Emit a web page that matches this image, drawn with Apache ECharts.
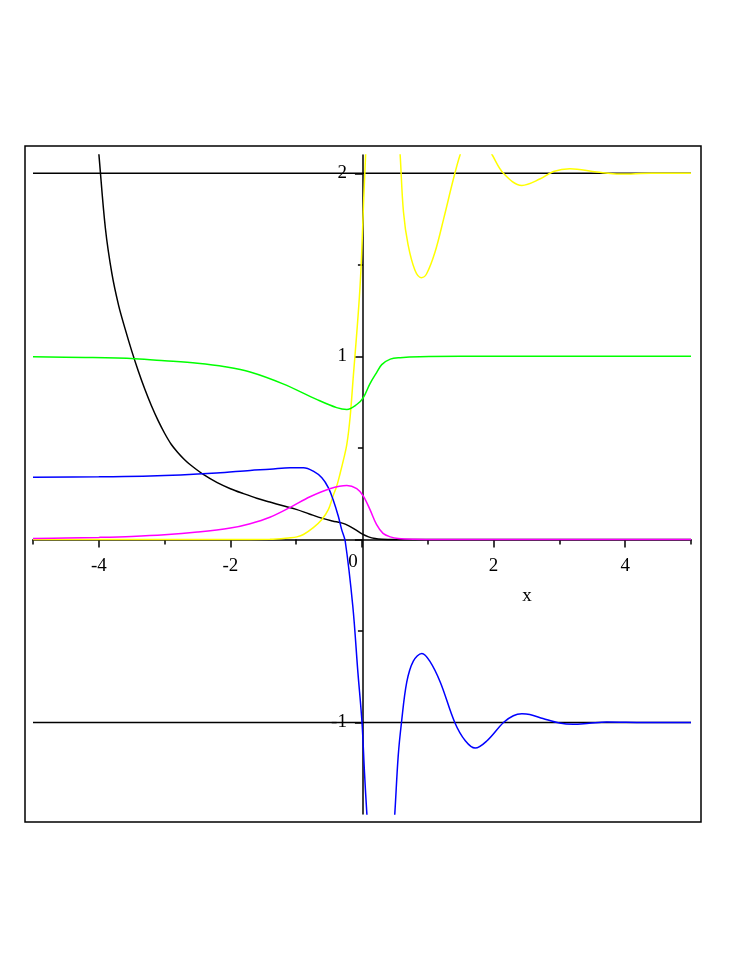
<!DOCTYPE html>
<html>
<head>
<meta charset="utf-8">
<script src="https://cdn.jsdelivr.net/npm/echarts@6/dist/echarts.min.js"></script>
<style>
html,body{margin:0;padding:0;background:#fff;}
#chart{width:747px;height:967px;}
</style>
</head>
<body>
<div id="chart"></div>
<script>
// ---- data ----
var xRange = [-5, 5];
var yRange = [-1.5, 2.1];
var levelLines = [2, -1];
var xMinorTicks = [-5, -3, -1, 1, 3, 5];
var xTickLabels = [-4, -2, 0, 2, 4];
var yMinorTicks = [-0.5, 0.5, 1.5];
var yTickLabels = [-1, 1, 2];

var blackX = [-4.06, -4.0, -3.9, -3.8, -3.7, -3.6, -3.5, -3.4, -3.3, -3.2, -3.1, -3.0, -2.9, -2.8, -2.7, -2.6, -2.4, -2.2, -2.0, -1.8, -1.6, -1.4, -1.2, -1.0, -0.8, -0.6, -0.45, -0.3, -0.2, -0.1, 0, 0.1, 0.2, 0.3, 0.5, 1, 5];
var blackY = [2.36, 2.11, 1.70, 1.45, 1.28, 1.15, 1.03, 0.92, 0.82, 0.73, 0.65, 0.58, 0.52, 0.475, 0.437, 0.405, 0.352, 0.31, 0.277, 0.25, 0.225, 0.204, 0.184, 0.164, 0.139, 0.115, 0.101, 0.089, 0.074, 0.053, 0.03, 0.014, 0.005, 0.0015, 0, 0, 0];

var yellowX = [-5, -2, -1.4, -1.09, -0.99, -0.89, -0.74, -0.61, -0.51, -0.44, -0.385, -0.33, -0.28, -0.23, -0.18, -0.13, -0.09, -0.056, -0.03, -0.005, 0.025, 0.056, 0.1, 0.2, 0.3, 0.4, 0.5, 0.58, 0.63, 0.7, 0.805, 0.9, 0.98, 1.11, 1.24, 1.39, 1.49, 1.58, 1.7, 1.82, 1.92, 1.98, 2.15, 2.43, 2.71, 2.91, 3.16, 3.57, 3.92, 4.4, 5];
var yellowY = [0, 0, 0.001, 0.009, 0.014, 0.027, 0.064, 0.109, 0.164, 0.237, 0.29, 0.364, 0.437, 0.52, 0.67, 0.9, 1.08, 1.24, 1.38, 1.56, 1.85, 2.11, 2.5, 2.95, 3.1, 2.95, 2.55, 2.1, 1.79, 1.61, 1.47, 1.43, 1.45, 1.57, 1.75, 1.97, 2.1, 2.18, 2.23, 2.2, 2.14, 2.1, 2.0, 1.934, 1.97, 2.01, 2.025, 2.007, 1.996, 2.0, 2.0];

var greenX = [-5, -4.2, -3.45, -3.0, -2.5, -2.08, -1.7, -1.2, -0.69, -0.385, -0.23, -0.08, 0.02, 0.12, 0.22, 0.3, 0.43, 0.58, 0.88, 1.5, 5];
var greenY = [0.998, 0.994, 0.987, 0.976, 0.962, 0.943, 0.915, 0.85, 0.765, 0.72, 0.71, 0.737, 0.775, 0.85, 0.91, 0.955, 0.985, 0.993, 0.998, 1.0, 1.0];

var blueX = [-5, -4, -3.22, -2.21, -1.7, -1.4, -1.09, -0.89, -0.74, -0.61, -0.51, -0.44, -0.36, -0.31, -0.255, -0.14, -0.062, 0, 0.038, 0.073, 0.12, 0.2, 0.285, 0.37, 0.45, 0.5, 0.55, 0.6, 0.68, 0.78, 0.91, 1.03, 1.19, 1.41, 1.57, 1.72, 1.9, 2.15, 2.3, 2.43, 2.55, 2.75, 3.0, 3.21, 3.45, 3.72, 4.3, 5];
var blueY = [0.339, 0.342, 0.346, 0.363, 0.377, 0.383, 0.392, 0.392, 0.373, 0.337, 0.282, 0.218, 0.127, 0.055, -0.01, -0.364, -0.728, -1.0, -1.275, -1.494, -1.74, -2.05, -2.13, -2.05, -1.76, -1.49, -1.184, -1.0, -0.78, -0.665, -0.623, -0.665, -0.78, -1.0, -1.1, -1.14, -1.1, -1.0, -0.963, -0.953, -0.957, -0.978, -1.003, -1.01, -1.004, -0.997, -1.0, -1.0];

var magentaX = [-5, -4.5, -4, -3.5, -3, -2.5, -2, -1.7, -1.4, -1.09, -0.79, -0.49, -0.23, -0.08, 0.02, 0.12, 0.22, 0.32, 0.43, 0.55, 0.8, 1.2, 5];
var magentaY = [0.005, 0.008, 0.011, 0.016, 0.025, 0.04, 0.062, 0.086, 0.121, 0.175, 0.233, 0.277, 0.295, 0.277, 0.237, 0.164, 0.082, 0.033, 0.014, 0.005, 0.001, 0, 0];

// ---- build ----
function zip(xs, ys) { return xs.map(function (x, i) { return [x, ys[i]]; }); }
var FONT = 'Liberation Serif';
var axisLineStyle = { color: '#000', width: 1.5 };
var GRID = { left: 33, right: 56, top: 155, bottom: 153 };

function curve(name, xs, ys, color) {
  return {
    name: name, type: 'line', data: zip(xs, ys),
    showSymbol: false, smooth: 0.35, clip: true,
    lineStyle: { color: color, width: 1.5 }, z: 3
  };
}

var series = levelLines.map(function (v) {
  return {
    type: 'line', data: [[xRange[0], v], [xRange[1], v]],
    showSymbol: false, lineStyle: { color: '#000', width: 1.5 }, z: 2
  };
});
series.push(curve('black', blackX, blackY, '#000000'));
series.push(curve('yellow', yellowX, yellowY, '#ffff00'));
series.push(curve('green', greenX, greenY, '#00ff00'));
series.push(curve('blue', blueX, blueY, '#0000ff'));
series.push(curve('magenta', magentaX, magentaY, '#ff00ff'));

var chart = echarts.init(document.getElementById('chart'), null, { renderer: 'canvas' });
chart.setOption({
  animation: false,
  backgroundColor: '#fff',
  grid: { left: GRID.left, right: GRID.right, top: GRID.top, bottom: GRID.bottom, containLabel: false },
  xAxis: {
    type: 'value', min: xRange[0], max: xRange[1], interval: 2, position: 'bottom', offset: 0,
    splitLine: { show: false },
    axisLine: { onZero: false, lineStyle: axisLineStyle },
    axisTick: { customValues: xMinorTicks, length: 5, lineStyle: { color: '#000', width: 1.5 } },
    minorTick: { show: true, splitNumber: 2, length: 8, lineStyle: { color: '#000', width: 1.5 } },
    axisLabel: {
      customValues: xTickLabels, margin: 16,
      formatter: function (v) { return v === 0 ? '{z|0}' : '{a|' + v + '}'; },
      rich: {
        a: { fontFamily: FONT, fontSize: 19, lineHeight: 22, color: '#000' },
        z: { fontFamily: FONT, fontSize: 19, lineHeight: 14, color: '#000', padding: [0, 18, 0, 0] }
      }
    },
    name: 'x', nameLocation: 'middle', nameGap: 47,
    nameTextStyle: { fontFamily: FONT, fontSize: 19, color: '#000', padding: [0, 0, 0, 330] }
  },
  yAxis: {
    type: 'value', min: yRange[0], max: yRange[1], interval: 1, position: 'left', offset: 0,
    splitLine: { show: false },
    axisLine: { onZero: false, lineStyle: axisLineStyle },
    axisTick: { customValues: yMinorTicks, length: 5, lineStyle: { color: '#000', width: 1.5 } },
    minorTick: { show: true, splitNumber: 2, length: 8, lineStyle: { color: '#000', width: 1.5 } },
    axisLabel: { customValues: yTickLabels, margin: 16, fontFamily: FONT, fontSize: 19, color: '#000' }
  },
  graphic: [{
    type: 'rect', z: 100, silent: true,
    shape: { x: 25, y: 146, width: 676, height: 676 },
    style: { fill: 'none', stroke: '#000', lineWidth: 1.5 }
  }],
  series: series
});

// move both axes onto the origin (x = 0, y = 0) using the library's own scale
var origin = chart.convertToPixel({ gridIndex: 0 }, [0, 0]);
var gridBottomPx = 967 - GRID.bottom;
chart.setOption({
  xAxis: { offset: origin[1] - gridBottomPx },
  yAxis: { offset: GRID.left - origin[0] }
});
</script>
</body>
</html>
